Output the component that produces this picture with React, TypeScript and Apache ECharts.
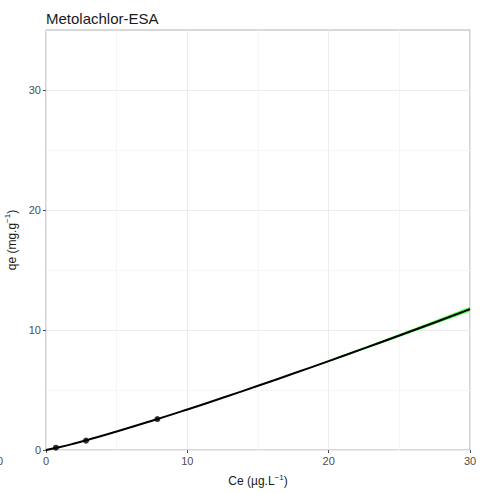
import React, { useEffect, useRef } from "react";
import * as echarts from "echarts";

const pointsX = [0.7, 2.83, 7.88];
const pointsY = [0.19, 0.78, 2.58];

const curveX = [0, 1, 2, 3, 5, 7.5, 10, 12.5, 15, 17.5, 20, 22.5, 25, 27.5, 30];
const curveY = [0, 0.25, 0.54, 0.86, 1.54, 2.44, 3.38, 4.35, 5.35, 6.37, 7.41, 8.47, 9.54, 10.63, 11.74];

const bandX = [17.5, 20, 22.5, 25, 27.5, 30];
const bandLow = [6.36, 7.34, 8.37, 9.41, 10.47, 11.54];
const bandHigh = [6.38, 7.48, 8.57, 9.67, 10.79, 11.94];

const xTicks = [0, 10, 20, 30];
const yTicks = [0, 10, 20, 30];

export default function App() {
  const ref = useRef<HTMLDivElement>(null);
  useEffect(() => {
    const chart = echarts.init(ref.current!, null, { renderer: "svg" });
    const font = "Liberation Sans, Arial, sans-serif";
    const rich = {
      a: { fontFamily: font, fontSize: 12, color: "#1a1a1a" },
      s: { fontFamily: font, fontSize: 8, color: "#1a1a1a", verticalAlign: "top", padding: [0, 0, 8, 0] },
    };
    chart.setOption({
      animation: false,
      backgroundColor: "#ffffff",
      title: {
        text: "Metolachlor-ESA",
        left: 41,
        top: 6,
        textStyle: { fontFamily: font, fontSize: 15, fontWeight: "normal", color: "#1a1a1a" },
      },
      grid: {
        left: 46,
        right: 25,
        top: 30,
        bottom: 44,
        show: true,
        borderColor: "#b3b3b3",
        borderWidth: 1.2,
        outerBoundsMode: "none",
        containLabel: false,
      },
      xAxis: {
        type: "value",
        min: 0,
        max: 30,
        interval: 10,
        name: "{a|Ce (µg.L}{s|−1}{a|)}",
        nameLocation: "middle",
        nameGap: 23,
        nameTextStyle: { rich },
        axisLine: { show: false },
        axisTick: { show: true, length: 3, lineStyle: { color: "#4d4d4d" }, customValues: xTicks },
        axisLabel: { margin: 5, fontFamily: font, fontSize: 11, color: "#4d4d4d", customValues: xTicks },
        splitLine: { show: true, lineStyle: { color: "#ebebeb", width: 1 } },
        minorTick: { show: false, splitNumber: 2 },
        minorSplitLine: { show: true, lineStyle: { color: "#f5f5f5", width: 1 } },
      },
      yAxis: {
        type: "value",
        min: 0,
        max: 35,
        interval: 10,
        name: "{a|qe (mg.g}{s|−1}{a|)}",
        nameLocation: "middle",
        nameGap: 21,
        nameTextStyle: { rich },
        axisLine: { show: false },
        axisTick: { show: true, length: 3, lineStyle: { color: "#4d4d4d" }, customValues: yTicks },
        axisLabel: { margin: 5, fontFamily: font, fontSize: 11, color: "#4d4d4d", customValues: yTicks },
        splitLine: { show: true, lineStyle: { color: "#ebebeb", width: 1 } },
        minorTick: { show: false, splitNumber: 2 },
        minorSplitLine: { show: true, lineStyle: { color: "#f5f5f5", width: 1 } },
      },
      graphic: [
        {
          type: "text",
          left: -3,
          top: 455,
          style: { text: "0", fontFamily: font, fontSize: 11, fill: "#4d4d4d" },
        },
      ],
      series: [
        {
          type: "custom",
          silent: true,
          z: 1,
          data: [0],
          renderItem: (params: any, api: any) => {
            const pts: number[][] = [];
            bandX.forEach((x, i) => pts.push(api.coord([x, bandHigh[i]])));
            for (let i = bandX.length - 1; i >= 0; i--) pts.push(api.coord([bandX[i], bandLow[i]]));
            return {
              type: "polygon",
              shape: { points: pts, smooth: 0 },
              style: { fill: "#33ff33", opacity: 0.85 },
            };
          },
        },
        {
          type: "line",
          data: curveX.map((x, i) => [x, curveY[i]]),
          symbol: "none",
          smooth: true,
          lineStyle: { color: "#000000", width: 2 },
          z: 2,
        },
        {
          type: "scatter",
          data: pointsX.map((x, i) => [x, pointsY[i]]),
          symbolSize: 6,
          itemStyle: { color: "#000000" },
          z: 3,
        },
      ],
    });
    return () => chart.dispose();
  }, []);
  return <div ref={ref} style={{ width: 495, height: 494, position: "absolute", left: 0, top: 0 }} />;
}
